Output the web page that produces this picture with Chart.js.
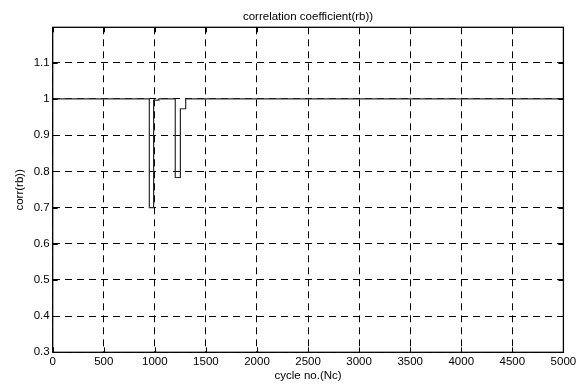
<!DOCTYPE html>
<html>
<head>
<meta charset="utf-8">
<script src="https://cdn.jsdelivr.net/npm/chart.js@4.4.1/dist/chart.umd.min.js"></script>
<style>
  html, body { margin: 0; padding: 0; background: #fff; }
  #wrap { width: 586px; height: 385px; }
</style>
</head>
<body>
<div id="wrap"><canvas id="c" width="586" height="385"></canvas></div>
<script>
// Step changes of the correlation coefficient over the cycle count
// (each value holds from its cycle number until the next one)
const cycleNo = [0, 946, 988, 1040, 1200, 1250, 1302, 5000];
const corrRb  = [1, 0.70, 0.997, 1, 0.783, 0.973, 1, 1];

const xTicks = [0, 500, 1000, 1500, 2000, 2500, 3000, 3500, 4000, 4500, 5000];
const yTicks = [0.3, 0.4, 0.5, 0.6, 0.7, 0.8, 0.9, 1, 1.1];

const FONT = { family: '"Liberation Sans", Arial, sans-serif', size: 11.5 };

// Box frame with inward tick marks on all four sides
const framePlugin = {
  id: 'frame',
  afterDatasetsDraw(chart) {
    const { ctx, chartArea: a, scales } = chart;
    ctx.save();
    ctx.strokeStyle = '#000';
    ctx.lineWidth = 1;
    ctx.setLineDash([]);
    ctx.beginPath();
    const L = 5;
    scales.x.ticks.forEach(t => {
      const px = Math.round(scales.x.getPixelForValue(t.value)) + 0.5;
      ctx.moveTo(px, a.bottom); ctx.lineTo(px, a.bottom - L);
      ctx.moveTo(px, a.top); ctx.lineTo(px, a.top + L);
    });
    scales.y.ticks.forEach(t => {
      const py = Math.round(scales.y.getPixelForValue(t.value)) + 0.5;
      ctx.moveTo(a.left, py); ctx.lineTo(a.left + L, py);
      ctx.moveTo(a.right, py); ctx.lineTo(a.right - L, py);
    });
    ctx.stroke();
    ctx.lineWidth = 1.3;
    ctx.strokeRect(a.left, a.top, a.right - a.left, a.bottom - a.top);
    ctx.restore();
  }
};

new Chart(document.getElementById('c'), {
  type: 'line',
  data: {
    datasets: [{
      data: cycleNo.map((x, i) => ({ x, y: corrRb[i] })),
      stepped: 'before',
      borderColor: '#2a2a2a',
      borderWidth: 1.2,
      pointRadius: 0,
      fill: false
    }]
  },
  options: {
    responsive: false,
    animation: false,
    events: [],
    layout: { padding: { left: 0, right: 22.6, top: 0, bottom: 0 } },
    plugins: {
      legend: { display: false },
      tooltip: { enabled: false },
      title: {
        display: true,
        text: 'correlation coefficient(rb))',
        fullSize: false,
        color: '#000',
        font: { ...FONT, weight: 'normal', lineHeight: 1.2 },
        padding: { top: 9.5, bottom: 4 }
      }
    },
    scales: {
      x: {
        type: 'linear',
        min: 0,
        max: 5000,
        afterBuildTicks: s => { s.ticks = xTicks.map(v => ({ value: v })); },
        afterFit: s => { s.height = 32.7; },
        ticks: { color: '#000', font: FONT, padding: 3, maxRotation: 0, autoSkip: false,
                 callback: v => String(v) },
        grid: { color: '#000', lineWidth: 1, drawTicks: false },
        border: { display: false, dash: [7, 5] },
        title: { display: true, text: 'cycle no.(Nc)', color: '#000', font: FONT,
                 padding: { top: 0, bottom: 2 } }
      },
      y: {
        type: 'linear',
        min: 0.3,
        max: 1.198,
        afterBuildTicks: s => { s.ticks = yTicks.map(v => ({ value: v })); },
        afterFit: s => { s.width = 52.7; },
        ticks: { color: '#000', font: FONT, padding: 3, autoSkip: false,
                 callback: v => String(Number(v.toFixed(2))) },
        grid: { color: '#000', lineWidth: 1, drawTicks: false },
        border: { display: false, dash: [7, 5] },
        title: { display: true, text: 'corr(rb))', color: '#000', font: FONT,
                 padding: { top: 13, bottom: 0 } }
      }
    }
  },
  plugins: [framePlugin]
});
</script>
</body>
</html>
